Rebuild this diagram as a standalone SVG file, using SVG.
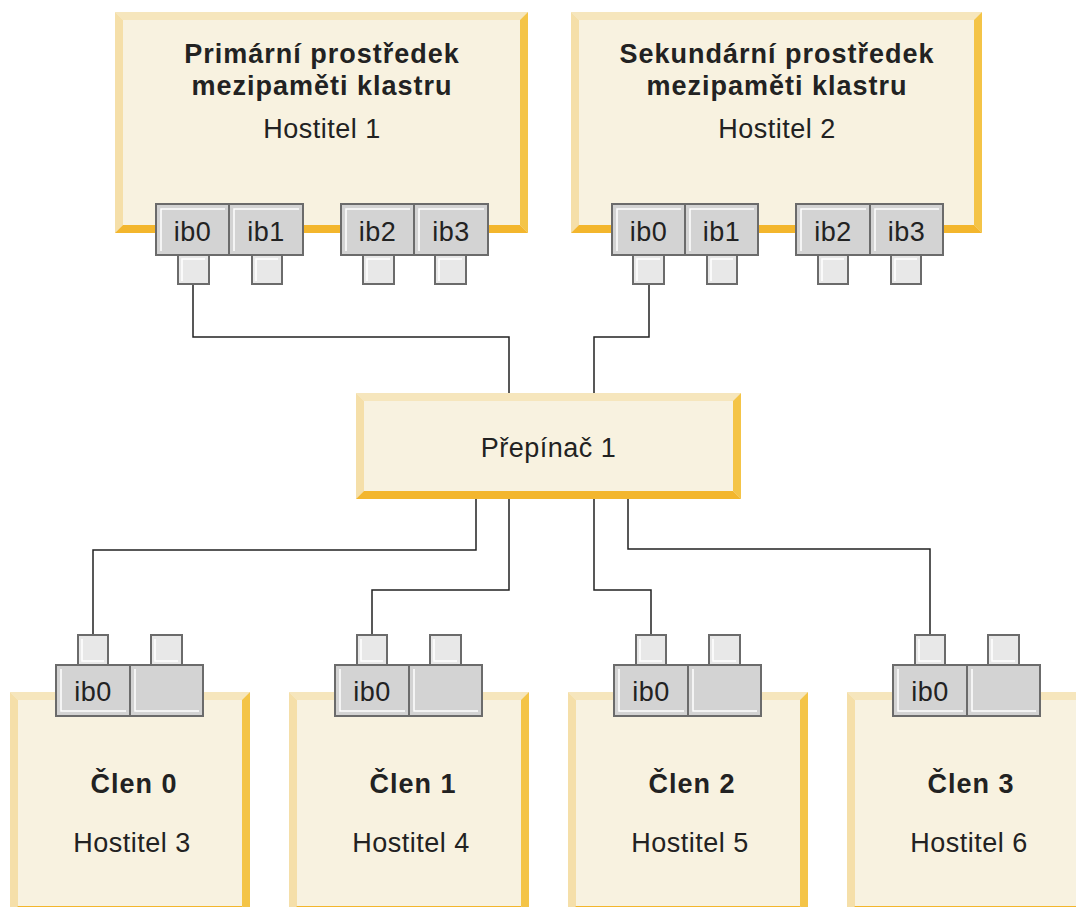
<svg xmlns="http://www.w3.org/2000/svg" width="1076" height="907" viewBox="0 0 1076 907">
<defs>
<style>
.fill{fill:#f8f2e0}
.bt{fill:#f6e6bd}
.bl{fill:#f5dfa9}
.br{fill:#f4c447}
.bb{fill:#f3b62d}
.cell{fill:#d3d3d3;stroke:#6b6b6b;stroke-width:2}
.sq{fill:#e8e8e8;stroke:#6b6b6b;stroke-width:2}
.hl{fill:none;stroke:#ffffff;stroke-width:1.5}
.t{font-family:"Liberation Sans",Arial,sans-serif;font-size:27px;fill:#222;text-anchor:middle;letter-spacing:0.5px}
.b{font-weight:bold;letter-spacing:1px}
.conn{fill:none;stroke:#222;stroke-width:1.5}
</style>
</defs>
<rect width="1076" height="907" fill="#ffffff"/>

<g id="connectors">
<polyline class="conn" points="193,284 193,337 509,337 509,393"/>
<polyline class="conn" points="649,284 649,337 594,337 594,393"/>
<polyline class="conn" points="476,499 476,550 93,550 93,635"/>
<polyline class="conn" points="509,499 509,590 372,590 372,635"/>
<polyline class="conn" points="594,499 594,590 651,590 651,635"/>
<polyline class="conn" points="628,499 628,549 930,549 930,635"/>
</g>

<g id="host1">
<rect class="fill" x="115" y="12" width="413" height="221"/>
<polygon class="bt" points="115,12 528,12 520,20 123,20"/>
<polygon class="bl" points="115,12 123,20 123,225 115,233"/>
<polygon class="br" points="528,12 528,233 520,225 520,20"/>
<polygon class="bb" points="115,233 528,233 520,225 123,225"/>
<text class="t b" x="322" y="63">Primární prostředek</text>
<text class="t b" x="322" y="95">mezipaměti klastru</text>
<text class="t" x="322" y="138">Hostitel 1</text>
<g>
<rect class="cell" x="156" y="204" width="73" height="51"/><polyline class="hl" points="161,251 161,209 225,209"/>
<rect class="cell" x="229" y="204" width="74" height="51"/><polyline class="hl" points="234,251 234,209 299,209"/>
<rect class="cell" x="341" y="204" width="73" height="51"/><polyline class="hl" points="346,251 346,209 410,209"/>
<rect class="cell" x="414" y="204" width="74" height="51"/><polyline class="hl" points="419,251 419,209 484,209"/>
<text class="t" x="192.5" y="241">ib0</text>
<text class="t" x="266" y="241">ib1</text>
<text class="t" x="377.5" y="241">ib2</text>
<text class="t" x="451" y="241">ib3</text>
<rect class="sq" x="178" y="255" width="31" height="29"/><polyline class="hl" points="182,281 182,259 205,259"/>
<rect class="sq" x="252" y="255" width="30" height="29"/><polyline class="hl" points="256,281 256,259 278,259"/>
<rect class="sq" x="363" y="255" width="31" height="29"/><polyline class="hl" points="367,281 367,259 390,259"/>
<rect class="sq" x="435" y="255" width="31" height="29"/><polyline class="hl" points="439,281 439,259 462,259"/>
</g>
</g>

<g id="host2">
<rect class="fill" x="571" y="12" width="411" height="221"/>
<polygon class="bt" points="571,12 982,12 974,20 579,20"/>
<polygon class="bl" points="571,12 579,20 579,225 571,233"/>
<polygon class="br" points="982,12 982,233 974,225 974,20"/>
<polygon class="bb" points="571,233 982,233 974,225 579,225"/>
<text class="t b" x="777" y="63">Sekundární prostředek</text>
<text class="t b" x="777" y="95">mezipaměti klastru</text>
<text class="t" x="777" y="138">Hostitel 2</text>
<g>
<rect class="cell" x="612" y="204" width="73" height="51"/><polyline class="hl" points="617,251 617,209 681,209"/>
<rect class="cell" x="685" y="204" width="73" height="51"/><polyline class="hl" points="690,251 690,209 754,209"/>
<rect class="cell" x="796" y="204" width="74" height="51"/><polyline class="hl" points="801,251 801,209 866,209"/>
<rect class="cell" x="870" y="204" width="73" height="51"/><polyline class="hl" points="875,251 875,209 939,209"/>
<text class="t" x="648.5" y="241">ib0</text>
<text class="t" x="721.5" y="241">ib1</text>
<text class="t" x="833" y="241">ib2</text>
<text class="t" x="906.5" y="241">ib3</text>
<rect class="sq" x="633" y="255" width="31" height="29"/><polyline class="hl" points="637,281 637,259 660,259"/>
<rect class="sq" x="707" y="255" width="30" height="29"/><polyline class="hl" points="711,281 711,259 733,259"/>
<rect class="sq" x="818" y="255" width="30" height="29"/><polyline class="hl" points="822,281 822,259 844,259"/>
<rect class="sq" x="891" y="255" width="30" height="29"/><polyline class="hl" points="895,281 895,259 917,259"/>
</g>
</g>

<g id="switch1">
<rect class="fill" x="356" y="393" width="385" height="106"/>
<polygon class="bt" points="356,393 741,393 733,401 364,401"/>
<polygon class="bl" points="356,393 364,401 364,491 356,499"/>
<polygon class="br" points="741,393 741,499 733,491 733,401"/>
<polygon class="bb" points="356,499 741,499 733,491 364,491"/>
<text class="t" x="548.5" y="457">Přepínač 1</text>
</g>

<g id="member0">
<rect class="fill" x="10" y="692" width="240" height="222"/>
<polygon class="bt" points="10,692 250,692 242,700 18,700"/>
<polygon class="bl" points="10,692 18,700 18,906 10,914"/>
<polygon class="br" points="250,692 250,914 242,906 242,700"/>
<polygon class="bb" points="10,914 250,914 242,906 18,906"/>
<rect class="sq" x="78" y="635" width="30" height="30"/><polyline class="hl" points="82,639 82,661 104,661"/>
<rect class="sq" x="151" y="635" width="31" height="30"/><polyline class="hl" points="155,639 155,661 178,661"/>
<rect class="cell" x="56" y="665" width="74" height="51"/><polyline class="hl" points="61,669 61,711 126,711"/>
<rect class="cell" x="130" y="665" width="73" height="51"/><polyline class="hl" points="135,669 135,711 199,711"/>
<text class="t" x="93" y="701">ib0</text>
<text class="t b" x="134" y="793">Člen 0</text>
<text class="t" x="132" y="852">Hostitel 3</text>
</g>

<g id="member1" transform="translate(279,0)">
<rect class="fill" x="10" y="692" width="240" height="222"/>
<polygon class="bt" points="10,692 250,692 242,700 18,700"/>
<polygon class="bl" points="10,692 18,700 18,906 10,914"/>
<polygon class="br" points="250,692 250,914 242,906 242,700"/>
<polygon class="bb" points="10,914 250,914 242,906 18,906"/>
<rect class="sq" x="78" y="635" width="30" height="30"/><polyline class="hl" points="82,639 82,661 104,661"/>
<rect class="sq" x="151" y="635" width="31" height="30"/><polyline class="hl" points="155,639 155,661 178,661"/>
<rect class="cell" x="56" y="665" width="74" height="51"/><polyline class="hl" points="61,669 61,711 126,711"/>
<rect class="cell" x="130" y="665" width="73" height="51"/><polyline class="hl" points="135,669 135,711 199,711"/>
<text class="t" x="93" y="701">ib0</text>
<text class="t b" x="134" y="793">Člen 1</text>
<text class="t" x="132" y="852">Hostitel 4</text>
</g>

<g id="member2" transform="translate(558,0)">
<rect class="fill" x="10" y="692" width="240" height="222"/>
<polygon class="bt" points="10,692 250,692 242,700 18,700"/>
<polygon class="bl" points="10,692 18,700 18,906 10,914"/>
<polygon class="br" points="250,692 250,914 242,906 242,700"/>
<polygon class="bb" points="10,914 250,914 242,906 18,906"/>
<rect class="sq" x="78" y="635" width="30" height="30"/><polyline class="hl" points="82,639 82,661 104,661"/>
<rect class="sq" x="151" y="635" width="31" height="30"/><polyline class="hl" points="155,639 155,661 178,661"/>
<rect class="cell" x="56" y="665" width="74" height="51"/><polyline class="hl" points="61,669 61,711 126,711"/>
<rect class="cell" x="130" y="665" width="73" height="51"/><polyline class="hl" points="135,669 135,711 199,711"/>
<text class="t" x="93" y="701">ib0</text>
<text class="t b" x="134" y="793">Člen 2</text>
<text class="t" x="132" y="852">Hostitel 5</text>
</g>

<g id="member3" transform="translate(837,0)">
<rect class="fill" x="10" y="692" width="240" height="222"/>
<polygon class="bt" points="10,692 250,692 242,700 18,700"/>
<polygon class="bl" points="10,692 18,700 18,906 10,914"/>
<polygon class="br" points="250,692 250,914 242,906 242,700"/>
<polygon class="bb" points="10,914 250,914 242,906 18,906"/>
<rect class="sq" x="78" y="635" width="30" height="30"/><polyline class="hl" points="82,639 82,661 104,661"/>
<rect class="sq" x="151" y="635" width="31" height="30"/><polyline class="hl" points="155,639 155,661 178,661"/>
<rect class="cell" x="56" y="665" width="74" height="51"/><polyline class="hl" points="61,669 61,711 126,711"/>
<rect class="cell" x="130" y="665" width="73" height="51"/><polyline class="hl" points="135,669 135,711 199,711"/>
<text class="t" x="93" y="701">ib0</text>
<text class="t b" x="134" y="793">Člen 3</text>
<text class="t" x="132" y="852">Hostitel 6</text>
</g>
</svg>
